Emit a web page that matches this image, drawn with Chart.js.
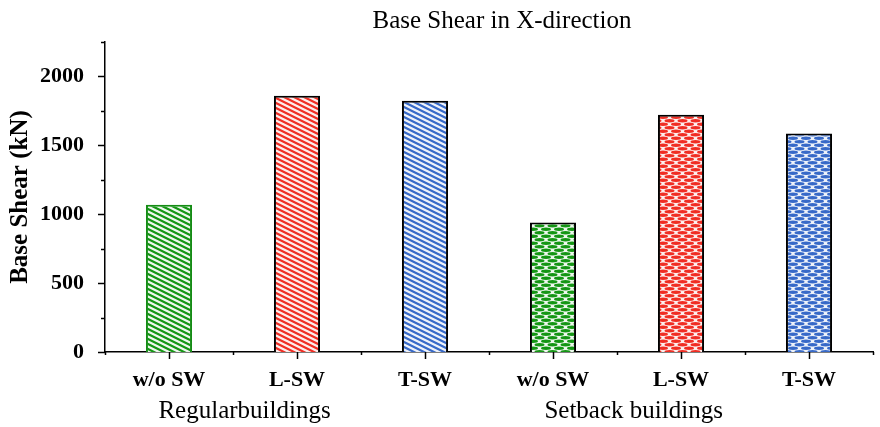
<!DOCTYPE html>
<html>
<head>
<meta charset="utf-8">
<script src="https://cdn.jsdelivr.net/npm/chart.js@4/dist/chart.umd.min.js"></script>
<style>
  html, body { margin: 0; padding: 0; background: #fff; }
  #wrap { width: 880px; height: 427px; position: relative; }
</style>
</head>
<body>
<div id="wrap"><canvas id="shearChart"></canvas></div>
<script>
// values
const categories = ['w/o SW', 'L-SW', 'T-SW', 'w/o SW', 'L-SW', 'T-SW'];
const baseShear = [1068, 1860, 1824, 940, 1722, 1585];
const groupLabels = ['Regularbuildings', 'Setback buildings'];
const yTicks = [0, 500, 1000, 1500, 2000];

const green = 'rgb(20,150,20)';
const red = 'rgb(240,45,35)';
const blue = 'rgb(55,105,200)';
const serif = '"Liberation Serif", "Times New Roman", serif';

// "\" stripes
function stripePattern(color, tint) {
    const c = document.createElement('canvas');
    c.width = 10; c.height = 5;
    const g = c.getContext('2d');
    g.fillStyle = tint;
    g.fillRect(0, 0, 10, 5);
    g.strokeStyle = color;
    g.lineWidth = 2.2;
    for (let k = -2; k <= 2; k++) {
        g.beginPath();
        g.moveTo(-10, -5 + k * 5);
        g.lineTo(20, 10 + k * 5);
        g.stroke();
    }
    return g.createPattern(c, 'repeat');
}

// staggered ellipse mesh
function meshPattern(color, tint) {
    const c = document.createElement('canvas');
    c.width = 13; c.height = 7;
    const g = c.getContext('2d');
    g.fillStyle = tint;
    g.fillRect(0, 0, 13, 7);
    g.fillStyle = color;
    const spots = [[6.5, 1.75], [0, 5.25], [13, 5.25], [6.5, 8.75], [0, -1.75], [13, -1.75]];
    spots.forEach(function(p) {
        g.beginPath();
        g.ellipse(p[0], p[1], 5, 1.7, 0, 0, Math.PI * 2);
        g.fill();
    });
    return g.createPattern(c, 'repeat');
}

const fills = [
    stripePattern(green, '#eef8ee'),
    stripePattern(red, '#fdeeec'),
    stripePattern(blue, '#edf2fa'),
    meshPattern(green, '#eef8ee'),
    meshPattern(red, '#fdeeec'),
    meshPattern(blue, '#edf2fa')
];
const borders = ['rgb(20,140,20)', '#000', '#000', '#000', '#000', '#000'];

const extras = {
    id: 'extras',
    afterDraw: function(chart) {
        const ctx = chart.ctx;
        const x = chart.scales.x;
        const y = chart.scales.y;
        const area = chart.chartArea;
        ctx.save();
        ctx.strokeStyle = '#000';
        ctx.lineWidth = 1.5;
        // y ticks (major every 500, minor every 250)
        for (let v = 0; v <= 2250; v += 250) {
            const py = Math.round(y.getPixelForValue(v)) + 0.5;
            const len = (v % 500 === 0) ? 7 : 4;
            ctx.beginPath();
            ctx.moveTo(area.left - len, py);
            ctx.lineTo(area.left, py);
            ctx.stroke();
        }
        // x ticks: major at categories, minor at boundaries
        for (let i = 0; i < categories.length; i++) {
            const px = Math.round(x.getPixelForValue(i)) + 0.5;
            ctx.beginPath();
            ctx.moveTo(px, area.bottom);
            ctx.lineTo(px, area.bottom + 7);
            ctx.stroke();
        }
        for (let i = 0; i <= categories.length; i++) {
            const px = Math.round(x.getPixelForValue(i - 0.5)) + 0.5;
            ctx.beginPath();
            ctx.moveTo(px, area.bottom);
            ctx.lineTo(px, area.bottom + 3);
            ctx.stroke();
        }
        // chart title
        ctx.fillStyle = '#000';
        ctx.textAlign = 'center';
        ctx.textBaseline = 'alphabetic';
        ctx.font = '25px ' + serif;
        ctx.fillText('Base Shear in X-direction', 502, 28);
        // group labels
        ctx.fillText(groupLabels[0], x.getPixelForValue(0.59), 418);
        ctx.fillText(groupLabels[1], x.getPixelForValue(3.63), 418);
        ctx.restore();
    }
};

new Chart(document.getElementById('shearChart'), {
    type: 'bar',
    data: {
        labels: categories,
        datasets: [{
            data: baseShear,
            backgroundColor: fills,
            borderColor: borders,
            borderWidth: 2,
            borderSkipped: 'bottom',
            categoryPercentage: 1,
            barPercentage: 0.36
        }]
    },
    options: {
        responsive: true,
        maintainAspectRatio: false,
        animation: false,
        layout: { padding: { top: 42, right: 7, left: 0, bottom: 0 } },
        plugins: {
            legend: { display: false },
            title: { display: false },
            tooltip: { enabled: false }
        },
        scales: {
            x: {
                grid: { display: false, drawTicks: false },
                border: { display: true, color: '#000', width: 1.5 },
                ticks: {
                    color: '#000',
                    padding: 15,
                    maxRotation: 0,
                    font: { family: serif, size: 22, weight: 'bold' }
                },
                afterFit: function(scale) { scale.height = 75; }
            },
            y: {
                min: 0,
                max: 2250,
                afterBuildTicks: function(scale) {
                    scale.ticks = yTicks.map(function(v) { return { value: v }; });
                },
                grid: { display: false, drawTicks: false },
                border: { display: true, color: '#000', width: 1.5 },
                ticks: {
                    color: '#000',
                    padding: 21,
                    callback: function(v) { return String(v); },
                    font: { family: serif, size: 22, weight: 'bold' }
                },
                title: {
                    display: true,
                    text: 'Base Shear (kN)',
                    color: '#000',
                    padding: { top: 6, bottom: 0 },
                    font: { family: serif, size: 25, weight: 'bold' }
                },
                afterFit: function(scale) { scale.width = 105; }
            }
        }
    },
    plugins: [extras]
});
</script>
</body>
</html>
